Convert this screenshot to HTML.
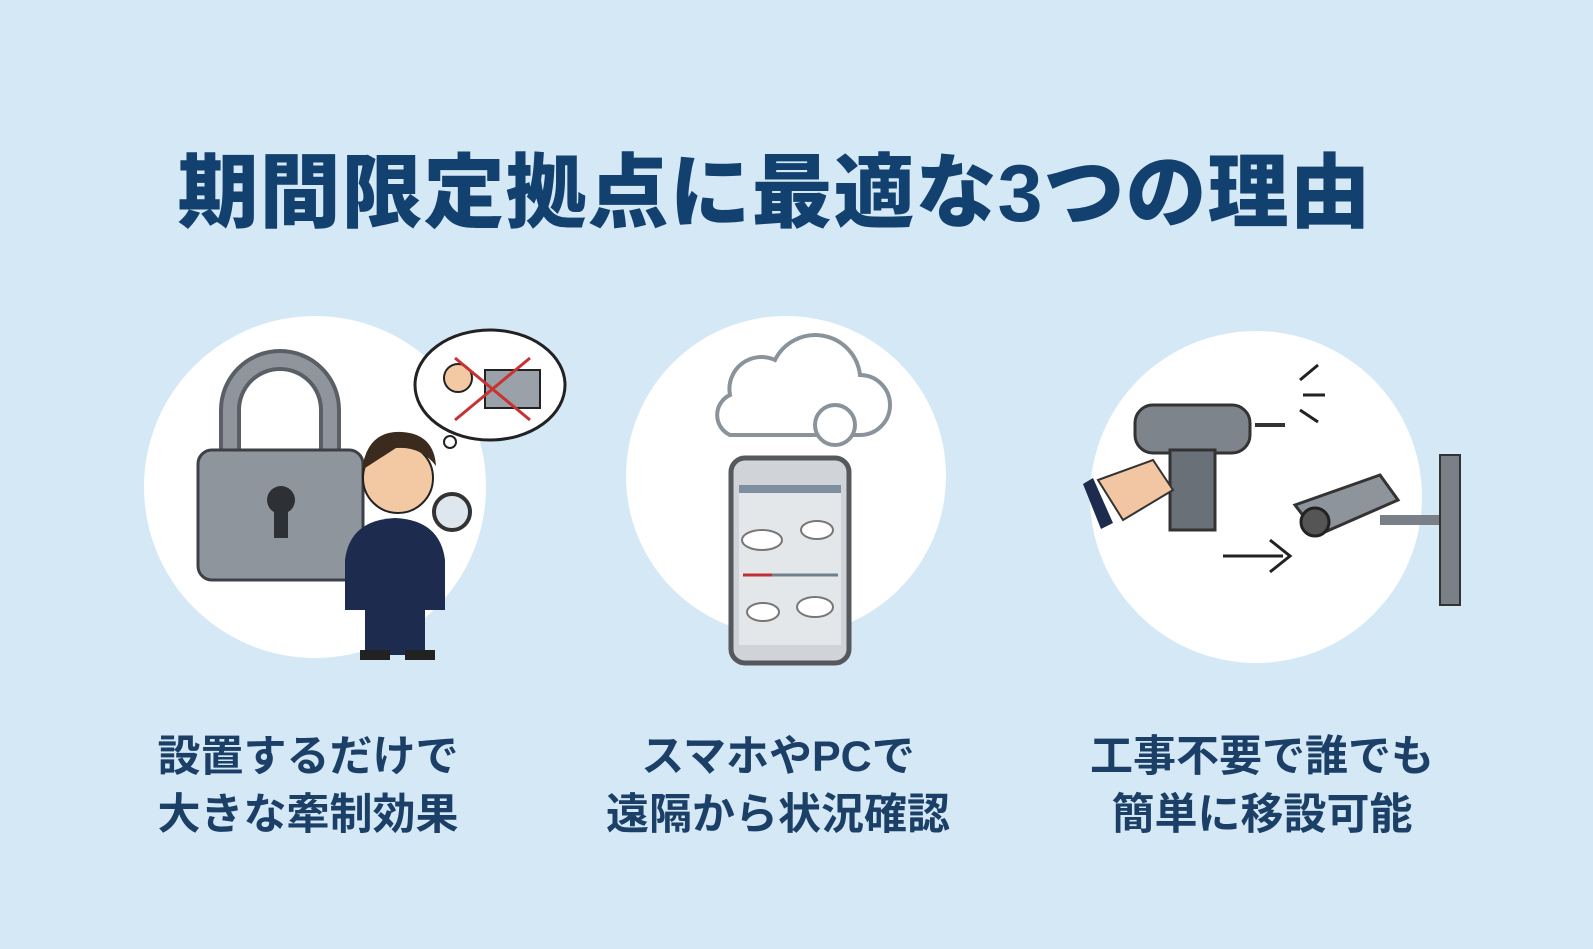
<!DOCTYPE html>
<html><head><meta charset="utf-8"><style>
html,body{margin:0;padding:0}
body{width:1593px;height:949px;background:#d5e8f6;position:relative;overflow:hidden;font-family:"Liberation Sans","Noto Sans CJK JP",sans-serif}
.t{position:absolute;left:-22px;width:1593px;top:128px;text-align:center;font-size:81px;font-weight:900;color:#13416f;letter-spacing:1px}
.l{position:absolute;text-align:center;font-size:43px;font-weight:700;color:#1b3f66;line-height:58px;width:460px}
svg{position:absolute;left:0;top:0}
</style></head><body>
<div class="t">期間限定拠点に最適な3つの理由</div>
<svg width="1593" height="949">
<circle cx="315" cy="487" r="171" fill="#fff"/>
<circle cx="786" cy="476" r="160" fill="#fff"/>
<circle cx="1256" cy="497" r="166" fill="#fff"/>
<path d="M230 450 V410 a50 50 0 0 1 100 0 V450" fill="none" stroke="#5a5f66" stroke-width="22"/>
<path d="M230 450 V410 a50 50 0 0 1 100 0 V450" fill="none" stroke="#8e959d" stroke-width="14"/>
<rect x="198" y="450" width="165" height="130" rx="14" fill="#8e959d" stroke="#3d4147" stroke-width="3"/>
<circle cx="281" cy="500" r="14" fill="#2d3136"/><rect x="274" y="500" width="14" height="38" fill="#2d3136"/>
<circle cx="398" cy="478" r="35" fill="#f3c9a4" stroke="#222" stroke-width="2"/>
<path d="M362 470 q5-40 40-38 q32 2 34 34 q-15-20-40-18z" fill="#3b2a1e"/>
<path d="M345 560 q5-40 50-42 q45 2 50 42 v50 h-100z" fill="#1d2b4f"/>
<rect x="365" y="605" width="60" height="50" fill="#1d2b4f"/>
<rect x="360" y="650" width="30" height="10" fill="#222"/><rect x="405" y="650" width="30" height="10" fill="#222"/>
<circle cx="452" cy="512" r="18" fill="#dfe7ee" stroke="#333" stroke-width="4"/>
<ellipse cx="490" cy="385" rx="75" ry="55" fill="#fff" stroke="#222" stroke-width="3"/>
<circle cx="450" cy="442" r="6" fill="#fff" stroke="#222" stroke-width="2"/>
<circle cx="458" cy="378" r="14" fill="#f3c9a4" stroke="#222" stroke-width="2"/>
<rect x="485" y="370" width="55" height="38" fill="#9aa1a8" stroke="#222" stroke-width="2"/>
<path d="M455 358 L530 420 M530 358 L455 420" stroke="#c83232" stroke-width="3"/>
<path d="M730 435 h130 a30 30 0 0 0 0-60 a45 45 0 0 0-85-15 a32 32 0 0 0-45 35 a22 22 0 0 0 0 40z" fill="#fff" stroke="#8a929a" stroke-width="4"/>
<circle cx="835" cy="425" r="20" fill="#fff" stroke="#8a929a" stroke-width="4"/>
<rect x="731" y="458" width="118" height="205" rx="14" fill="#d0d4d8" stroke="#55595e" stroke-width="5"/>
<rect x="739" y="485" width="102" height="160" fill="#e4e7ea"/>
<rect x="739" y="485" width="102" height="8" fill="#7f8f9f"/>
<line x1="743" y1="575" x2="772" y2="575" stroke="#c03030" stroke-width="3"/>
<line x1="772" y1="575" x2="838" y2="575" stroke="#6f8090" stroke-width="3"/>
<ellipse cx="762" cy="540" rx="20" ry="10" fill="#fff" stroke="#777" stroke-width="2"/>
<ellipse cx="817" cy="530" rx="16" ry="9" fill="#fff" stroke="#777" stroke-width="2"/>
<ellipse cx="763" cy="612" rx="16" ry="9" fill="#fff" stroke="#777" stroke-width="2"/>
<ellipse cx="815" cy="607" rx="18" ry="10" fill="#fff" stroke="#777" stroke-width="2"/>
<rect x="1135" y="405" width="115" height="48" rx="18" fill="#7d848b" stroke="#333" stroke-width="3"/>
<rect x="1170" y="450" width="45" height="80" fill="#6a7077" stroke="#333" stroke-width="3"/>
<path d="M1098 480 l55-20 l20 30 l-50 30z" fill="#f2c6a2" stroke="#333" stroke-width="2"/>
<path d="M1093 478 l20 45 l-12 6 l-18-45z" fill="#1d2b4f"/>
<path d="M1255 425 h30" stroke="#333" stroke-width="4"/>
<path d="M1300 380 l18-15 M1303 395 l22 0 M1300 410 l18 12" stroke="#222" stroke-width="3"/>
<path d="M1295 505 l85-30 l18 25 l-80 35z" fill="#8d949b" stroke="#333" stroke-width="3"/>
<circle cx="1315" cy="522" r="14" fill="#555" stroke="#222" stroke-width="3"/>
<rect x="1380" y="515" width="60" height="10" fill="#7a8087"/>
<rect x="1440" y="455" width="20" height="150" fill="#7a8087" stroke="#333" stroke-width="2"/>
<path d="M1223 556 h60 M1270 540 l20 16 l-20 16" fill="none" stroke="#222" stroke-width="3"/>
</svg>
<div class="l" style="left:78px;top:728px">設置するだけで<br>大きな牽制効果</div>
<div class="l" style="left:548px;top:728px">スマホやPCで<br>遠隔から状況確認</div>
<div class="l" style="left:1032px;top:728px">工事不要で誰でも<br>簡単に移設可能</div>
</body></html>
